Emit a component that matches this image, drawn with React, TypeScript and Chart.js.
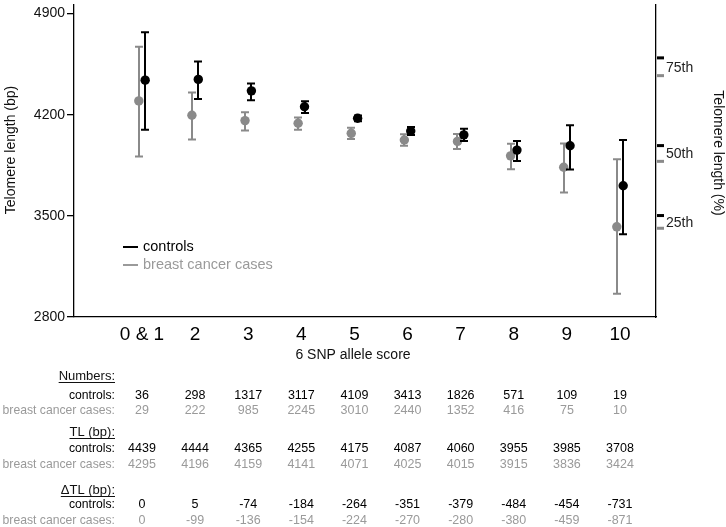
import React, { useEffect, useRef } from "react";
import { Chart, registerables } from "chart.js";

Chart.register(...registerables);

const categories = ["0 & 1", "2", "3", "4", "5", "6", "7", "8", "9", "10"];
const controlsTL = [4439, 4444, 4365, 4255, 4175, 4087, 4060, 3955, 3985, 3708];
const casesTL = [4295, 4196, 4159, 4141, 4071, 4025, 4015, 3915, 3836, 3424];
const controlsLow = [4095, 4309, 4300, 4211, 4155, 4059, 4017, 3880, 3821, 3373];
const controlsHigh = [4770, 4568, 4416, 4293, 4195, 4115, 4103, 4018, 4127, 4025];
const casesLow = [3911, 4029, 4091, 4095, 4032, 3985, 3963, 3823, 3661, 2961];
const casesHigh = [4670, 4354, 4216, 4180, 4110, 4065, 4067, 3999, 4000, 3892];

const yTicks = [4900, 4200, 3500, 2800];
const pctLabels = ["75th", "50th", "25th"];
const pctLabelValues = [4525, 3925, 3448];
const controlsPct = [4593, 3986, 3502];
const casesPct = [4470, 3877, 3414];

const controlsN = ["36", "298", "1317", "3117", "4109", "3413", "1826", "571", "109", "19"];
const casesN = ["29", "222", "985", "2245", "3010", "2440", "1352", "416", "75", "10"];
const controlsDelta = ["0", "5", "-74", "-184", "-264", "-351", "-379", "-484", "-454", "-731"];
const casesDelta = ["0", "-99", "-136", "-154", "-224", "-270", "-280", "-380", "-459", "-871"];

const CTRL = "#000000";
const CASE = "#8a8a8a";
const CASE_TEXT = "#9a9a9a";
const FONT = "'Liberation Sans', Arial, sans-serif";

const drawPlugin = {
  id: "customDraw",
  beforeDatasetDraw(chart: any, args: any) {
    const ctx = chart.ctx;
    const xs = chart.scales.x;
    const ys = chart.scales.y;
    const isCtrl = args.index === 0;
    const lo = isCtrl ? controlsLow : casesLow;
    const hi = isCtrl ? controlsHigh : casesHigh;
    const off = isCtrl ? 0.06 : -0.06;
    ctx.save();
    ctx.strokeStyle = isCtrl ? CTRL : CASE;
    ctx.lineWidth = 2;
    for (let i = 0; i < lo.length; i++) {
      const px = Math.round(xs.getPixelForValue(i + off));
      const t = ys.getPixelForValue(hi[i]);
      const b = ys.getPixelForValue(lo[i]);
      ctx.beginPath();
      ctx.moveTo(px, t);
      ctx.lineTo(px, b);
      ctx.moveTo(px - 4, t);
      ctx.lineTo(px + 4, t);
      ctx.moveTo(px - 4, b);
      ctx.lineTo(px + 4, b);
      ctx.stroke();
    }
    ctx.restore();
  },
  afterDraw(chart: any) {
    const ctx = chart.ctx;
    const xs = chart.scales.x;
    const y2 = chart.scales.y2;
    ctx.save();
    // percentile markers
    const ax = chart.chartArea.right;
    controlsPct.forEach((v) => {
      ctx.fillStyle = CTRL;
      ctx.fillRect(ax + 1, y2.getPixelForValue(v) - 1.5, 7, 3);
    });
    casesPct.forEach((v) => {
      ctx.fillStyle = CASE;
      ctx.fillRect(ax + 1, y2.getPixelForValue(v) - 1.5, 7, 3);
    });

    // axis titles
    ctx.fillStyle = "#111";
    ctx.font = `14px ${FONT}`;
    ctx.textAlign = "center";
    ctx.textBaseline = "middle";
    ctx.save();
    ctx.translate(11, 150);
    ctx.rotate(-Math.PI / 2);
    ctx.fillText("Telomere length (bp)", 0, 0);
    ctx.restore();
    ctx.save();
    ctx.translate(718, 153);
    ctx.rotate(Math.PI / 2);
    ctx.fillText("Telomere length (%)", 0, 0);
    ctx.restore();
    ctx.fillText("6 SNP allele score", 353, 355);

    // legend
    ctx.lineWidth = 2;
    ctx.strokeStyle = CTRL;
    ctx.beginPath();
    ctx.moveTo(123, 247);
    ctx.lineTo(138, 247);
    ctx.stroke();
    ctx.strokeStyle = CASE_TEXT;
    ctx.beginPath();
    ctx.moveTo(123, 265);
    ctx.lineTo(138, 265);
    ctx.stroke();
    ctx.textAlign = "left";
    ctx.font = `14.5px ${FONT}`;
    ctx.fillStyle = CTRL;
    ctx.fillText("controls", 143, 247);
    ctx.fillStyle = CASE_TEXT;
    ctx.fillText("breast cancer cases", 143, 265);

    // table
    const labelX = 115;
    const header = (txt: string, y: number) => {
      ctx.font = `13px ${FONT}`;
      ctx.fillStyle = "#111";
      ctx.textAlign = "right";
      ctx.fillText(txt, labelX, y);
      const w = ctx.measureText(txt).width;
      ctx.fillRect(labelX - w, y + 6, w, 1);
    };
    const row = (label: string, vals: string[], y: number, color: string) => {
      ctx.font = `12.2px ${FONT}`;
      ctx.fillStyle = color;
      ctx.textAlign = "right";
      ctx.fillText(label, labelX, y);
      ctx.font = `12.5px ${FONT}`;
      ctx.textAlign = "center";
      vals.forEach((v, i) => {
        ctx.fillText(v, xs.getPixelForValue(i), y);
      });
    };
    header("Numbers:", 376);
    row("controls:", controlsN, 396, CTRL);
    row("breast cancer cases:", casesN, 411, CASE_TEXT);
    header("TL (bp):", 432);
    row("controls:", controlsTL.map(String), 449, CTRL);
    row("breast cancer cases:", casesTL.map(String), 465, CASE_TEXT);
    header("\u0394TL (bp):", 490);
    row("controls:", controlsDelta, 505, CTRL);
    row("breast cancer cases:", casesDelta, 521, CASE_TEXT);
    ctx.restore();
  },
};

export default function App() {
  const ref = useRef<HTMLCanvasElement | null>(null);
  useEffect(() => {
    if (!ref.current) return;
    const chart = new Chart(ref.current, {
      type: "scatter",
      data: {
        datasets: [
          {
            label: "controls",
            data: controlsTL.map((v, i) => ({ x: i + 0.06, y: v })),
            backgroundColor: CTRL,
            borderWidth: 0,
            pointRadius: 4.7,
            pointHoverRadius: 4.7,
          },
          {
            label: "breast cancer cases",
            data: casesTL.map((v, i) => ({ x: i - 0.06, y: v })),
            backgroundColor: CASE,
            borderWidth: 0,
            pointRadius: 4.7,
            pointHoverRadius: 4.7,
          },
        ],
      },
      options: {
        responsive: false,
        animation: false,
        devicePixelRatio: 1,
        layout: { padding: 0 },
        plugins: { legend: { display: false }, tooltip: { enabled: false } },
        scales: {
          x: {
            type: "linear",
            position: "bottom",
            min: -1.28,
            max: 9.678,
            grid: { display: false, drawTicks: false },
            border: { display: true, color: "#000", width: 1.3 },
            ticks: {
              font: { size: 19, family: FONT },
              color: "#000",
              padding: 6,
              autoSkip: false,
              maxRotation: 0,
              callback: (v: any) => categories[v as number] ?? "",
            },
            afterBuildTicks: (s: any) => {
              s.ticks = categories.map((_, i) => ({ value: i }));
            },
            afterFit: (s: any) => {
              s.height = 210;
              s.paddingLeft = 0;
              s.paddingRight = 0;
            },
          },
          y: {
            type: "linear",
            position: "left",
            min: 2800,
            max: 4961,
            grid: { drawOnChartArea: false, tickLength: 7, color: "#000", lineWidth: 1.3 },
            border: { display: true, color: "#000", width: 1.3 },
            ticks: {
              font: { size: 14, family: FONT },
              color: "#111",
              padding: 2,
              callback: (v: any) => String(v),
            },
            afterBuildTicks: (s: any) => {
              s.ticks = yTicks.map((v) => ({ value: v }));
            },
            afterFit: (s: any) => {
              s.width = 74;
              s.paddingTop = 0;
              s.paddingBottom = 0;
            },
          },
          y2: {
            type: "linear",
            position: "right",
            min: 2800,
            max: 4961,
            grid: { drawOnChartArea: false, drawTicks: false },
            border: { display: true, color: "#000", width: 1.3 },
            ticks: {
              font: { size: 14, family: FONT },
              color: "#222",
              padding: 10,
              callback: (v: any) => {
                const k = pctLabelValues.indexOf(v as number);
                return k >= 0 ? pctLabels[k] : "";
              },
            },
            afterBuildTicks: (s: any) => {
              s.ticks = pctLabelValues.map((v) => ({ value: v }));
            },
            afterFit: (s: any) => {
              s.width = 70;
              s.paddingTop = 0;
              s.paddingBottom = 0;
            },
          },
        },
      },
      plugins: [drawPlugin],
    });
    return () => chart.destroy();
  }, []);
  return (
    <div style={{ position: "absolute", left: 0, top: 0, width: 726, height: 527, background: "#fff" }}>
      <canvas ref={ref} width={726} height={527} style={{ display: "block" }} />
    </div>
  );
}
